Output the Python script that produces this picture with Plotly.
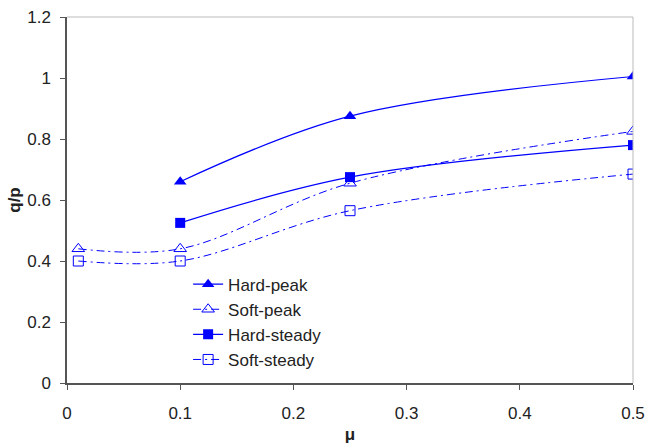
import plotly.graph_objects as go

mu_hard = [0.1, 0.25, 0.5]
mu_soft = [0.01, 0.1, 0.25, 0.5]
hard_peak = [0.66, 0.875, 1.005]
soft_peak = [0.44, 0.44, 0.655, 0.825]
hard_steady = [0.525, 0.675, 0.78]
soft_steady = [0.40, 0.40, 0.565, 0.685]

x_ticks = [0, 0.1, 0.2, 0.3, 0.4, 0.5]
x_labels = ["0", "0.1", "0.2", "0.3", "0.4", "0.5"]
y_ticks = [0, 0.2, 0.4, 0.6, 0.8, 1.0, 1.2]
y_labels = ["0", "0.2", "0.4", "0.6", "0.8", "1", "1.2"]

blue = "#0000FF"
dd = "8px,4px,2px,4px"
fig = go.Figure()
fig.add_trace(go.Scatter(x=mu_hard, y=hard_peak, name="Hard-peak", mode="lines+markers",
                         line=dict(color=blue, width=1.2, shape="spline"),
                         marker=dict(symbol="triangle-up", size=11, color=blue)))
fig.add_trace(go.Scatter(x=mu_soft, y=soft_peak, name="Soft-peak", mode="lines+markers",
                         line=dict(color=blue, width=1, shape="spline", dash=dd),
                         marker=dict(symbol="triangle-up-open", size=11, color=blue)))
fig.add_trace(go.Scatter(x=mu_hard, y=hard_steady, name="Hard-steady", mode="lines+markers",
                         line=dict(color=blue, width=1.2, shape="spline"),
                         marker=dict(symbol="square", size=10, color=blue)))
fig.add_trace(go.Scatter(x=mu_soft, y=soft_steady, name="Soft-steady", mode="lines+markers",
                         line=dict(color=blue, width=1, shape="spline", dash=dd),
                         marker=dict(symbol="square-open", size=10, color=blue)))

font = "Liberation Sans, Arial, sans-serif"
fig.update_layout(
    width=648, height=444,
    margin=dict(l=67, r=15, t=17, b=61),
    paper_bgcolor="white", plot_bgcolor="white",
    font=dict(family=font, size=17, color="#222"),
    showlegend=True,
    legend=dict(x=0.214, y=0.318, xanchor="left", yanchor="top",
                bgcolor="rgba(0,0,0,0)", font=dict(size=17), tracegroupgap=0),
    xaxis=dict(range=[0, 0.5], tickvals=x_ticks, ticktext=x_labels,
               showgrid=False, zeroline=False, showline=True, linecolor="#555", linewidth=1.5,
               ticks="outside", ticklen=5, tickcolor="#555", ticklabelstandoff=9,
               automargin=False,
               title=dict(text="<b>μ</b>", font=dict(size=17), standoff=6)),
    yaxis=dict(range=[0, 1.2], tickvals=y_ticks, ticktext=y_labels,
               showgrid=False, zeroline=False, showline=True, linecolor="#555", linewidth=1.5,
               ticks="outside", ticklen=5, tickcolor="#555", ticklabelstandoff=6,
               automargin=False,
               title=dict(text="<b>q/p</b>", font=dict(size=17), standoff=2)),
)
fig.add_shape(type="line", xref="paper", yref="paper", x0=0, x1=1, y0=1, y1=1,
              line=dict(color="#bbb", width=1))
fig.add_shape(type="line", xref="paper", yref="paper", x0=1, x1=1, y0=0, y1=1,
              line=dict(color="#bbb", width=1))
fig.write_html("out.html", config={"displayModeBar": False},
               post_script="document.body.style.margin='0';document.body.style.overflow='hidden';")
